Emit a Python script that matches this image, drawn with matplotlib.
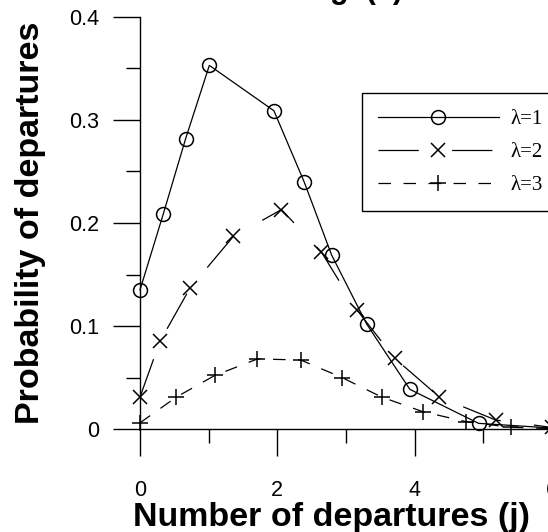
import matplotlib
matplotlib.use("Agg")
import matplotlib.pyplot as plt
from matplotlib.ticker import MultipleLocator

# valeurs
x_l1 = [0, 0.34, 0.665, 1.01, 1.95, 2.39, 2.79, 3.30, 3.93, 4.93, 6.1]
y_l1 = [0.135, 0.209, 0.282, 0.353, 0.309, 0.240, 0.169, 0.102, 0.0385, 0.0055, 0.0005]

x_l2 = [0, 0.29, 0.73, 1.36, 2.06, 2.64, 3.16, 3.71, 4.36, 5.18, 6.0]
y_l2 = [0.031, 0.085, 0.137, 0.187, 0.213, 0.172, 0.1155, 0.0686, 0.031, 0.0087, 0.0015]

x_l3 = [0, 0.53, 1.09, 1.71, 2.34, 2.94, 3.52, 4.12, 4.75, 5.40, 6.05]
y_l3 = [0.006, 0.031, 0.052, 0.068, 0.067, 0.050, 0.031, 0.0168, 0.0071, 0.0016, 0.0003]

labels = ["\u03bb=1", "\u03bb=2", "\u03bb=3"]
x_ticks = [0, 2, 4, 6]
y_ticks = [0, 0.1, 0.2, 0.3, 0.4]

plt.rcParams['font.family'] = ['Liberation Sans', 'DejaVu Sans']
plt.rcParams['lines.scale_dashes'] = False

W, H = 548, 532
fig = plt.figure(figsize=(W / 100, H / 100), dpi=100)
ax = fig.add_axes([140 / W, 103 / H, 412 / W, 412 / H])

lw = 0.9
ax.plot(x_l1, y_l1, color='black', lw=lw, marker='o', ms=10, mfc='none',
        mec='black', mew=1.1, label=labels[0], clip_on=False)
ax.plot(x_l2, y_l2, color='black', lw=lw, linestyle=(0, (29, 24)), marker='x', ms=10,
        mec='black', mew=1.1, label=labels[1], clip_on=False)
ax.plot(x_l3, y_l3, color='black', lw=lw, linestyle=(0, (9, 9)), marker='+', ms=11,
        mec='black', mew=1.1, label=labels[2], clip_on=False)

ax.set_xlim(0, 6)
ax.set_ylim(0, 0.4)
ax.set_xticks(x_ticks)
ax.set_xticklabels([str(t) for t in x_ticks])
ax.set_yticks(y_ticks)
ax.set_yticklabels(['0', '0.1', '0.2', '0.3', '0.4'])
ax.xaxis.set_minor_locator(MultipleLocator(1))
ax.yaxis.set_minor_locator(MultipleLocator(0.05))

for s in ['top', 'right']:
    ax.spines[s].set_visible(False)
for s in ['left', 'bottom']:
    ax.spines[s].set_linewidth(1.0)

ax.tick_params(which='major', direction='out', length=19.5, width=1.0, labelsize=15.5)
ax.tick_params(which='minor', direction='out', length=9.8, width=1.0)
ax.tick_params(axis='x', which='major', pad=17)
ax.tick_params(axis='y', which='major', pad=10)

ax.set_xlabel('Number of departures (j)', fontsize=24.5, fontweight='bold')
ax.xaxis.label.set_va('baseline')
ax.xaxis.set_label_coords(0.4636, -0.2354)
ax.set_ylabel('Probability of departures', fontsize=24.5, fontweight='bold')
ax.yaxis.label.set_va('center')
ax.yaxis.set_label_coords(-0.265, 0.5)

# titre coupé en haut de l'image
fig.text(403 / W, (H + 2) / H, 'Fig. (a)', ha='right', va='baseline',
         fontsize=22, fontweight='bold')

leg = ax.legend(loc='upper left', bbox_to_anchor=(361.7 / W, (H - 93.3) / H),
                bbox_transform=fig.transFigure, borderaxespad=0,
                prop={'family': 'Liberation Serif', 'size': 15},
                handlelength=5.8, handletextpad=0.55, labelspacing=0.64,
                borderpad=0.78, numpoints=1, fancybox=False, framealpha=1)
leg.get_frame().set_edgecolor('black')
leg.get_frame().set_linewidth(1.0)

fig.savefig('out.png', dpi=100)
